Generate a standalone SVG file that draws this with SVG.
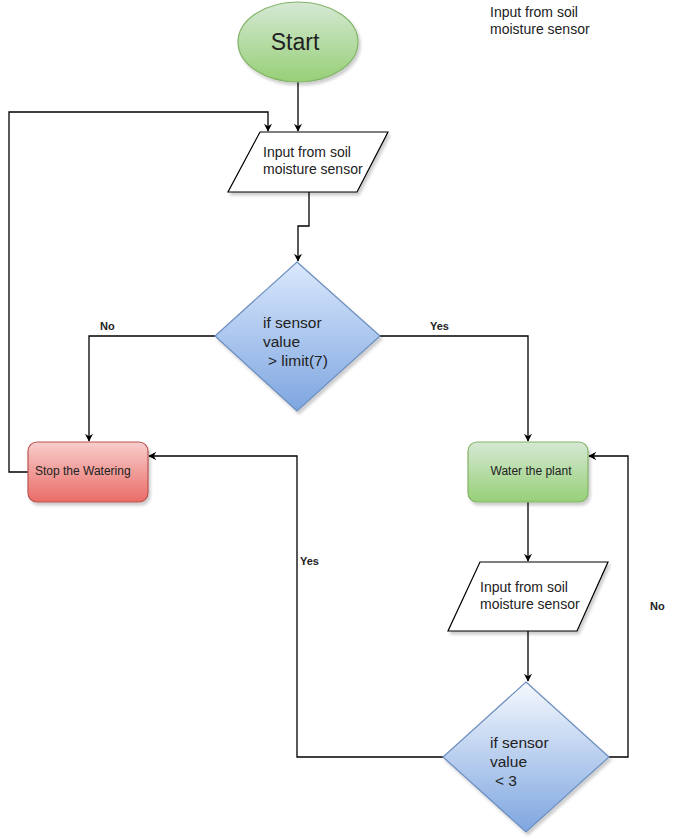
<svg xmlns="http://www.w3.org/2000/svg" width="689" height="839" viewBox="0 0 689 839">
<style>
text{font-family:"Liberation Sans",Arial,sans-serif;fill:#222}
.t14{font-size:14px}
.t15{font-size:15.5px}
.t12{font-size:12px}
.lbl{font-size:11px;font-weight:bold;fill:#222}
.edge{fill:none;stroke:#000;stroke-width:1.3}
.par{fill:#fff;stroke:#000;stroke-width:1.2}
</style>
<defs>
<linearGradient id="gGreen" x1="0" y1="0" x2="0" y2="1"><stop offset="0" stop-color="#d5e8d4"/><stop offset="1" stop-color="#97d077"/></linearGradient>
<linearGradient id="gRed" x1="0" y1="0" x2="0" y2="1"><stop offset="0" stop-color="#f8cecc"/><stop offset="1" stop-color="#ea6b66"/></linearGradient>
<linearGradient id="gBlue" x1="0" y1="0" x2="0" y2="1"><stop offset="0" stop-color="#dae8fc"/><stop offset="1" stop-color="#7ea6e0"/></linearGradient>
<linearGradient id="gBlue2" x1="0" y1="0" x2="0" y2="1"><stop offset="0" stop-color="#f5f8fd"/><stop offset="1" stop-color="#7ea6e0"/></linearGradient>
<filter id="sh" x="-10%" y="-10%" width="130%" height="130%"><feDropShadow dx="2" dy="3" stdDeviation="1.5" flood-color="#000" flood-opacity="0.2"/></filter>
<marker id="arr" viewBox="0 0 10 10" refX="9" refY="5" markerWidth="8" markerHeight="8" markerUnits="userSpaceOnUse" orient="auto"><path d="M0,0 L10,5 L0,10 L3,5 Z" fill="#000"/></marker>
</defs>
<g id="connectors">
<path class="edge" d="M298,82 V131" marker-end="url(#arr)"/>
<path class="edge" d="M28,472 H9 V112 H268 V131" marker-end="url(#arr)"/>
<path class="edge" d="M309,192 V226 H298 V261" marker-end="url(#arr)"/>
<path class="edge" d="M215,336 H89 V441" marker-end="url(#arr)"/>
<path class="edge" d="M380,336 H528 V441" marker-end="url(#arr)"/>
<path class="edge" d="M528,502 V561" marker-end="url(#arr)"/>
<path class="edge" d="M528,631 V681" marker-end="url(#arr)"/>
<path class="edge" d="M443,757 H297 V456 H149" marker-end="url(#arr)"/>
<path class="edge" d="M609,757 H628 V456 H589" marker-end="url(#arr)"/>
<text class="lbl" x="100" y="330">No</text>
<text class="lbl" x="430" y="330">Yes</text>
<text class="lbl" x="300" y="565">Yes</text>
<text class="lbl" x="650" y="610">No</text>
</g>
<g id="start">
<ellipse cx="298" cy="42" rx="60" ry="40" fill="url(#gGreen)" stroke="#82b366" stroke-width="1.2" filter="url(#sh)"/>
<text x="295" y="50" font-size="23" text-anchor="middle">Start</text>
</g>
<g id="input1">
<path class="par" d="M260,132 H388 L357,192 H228 Z" filter="url(#sh)"/>
<text class="t14" x="263" y="157">Input from soil</text>
<text class="t14" x="263" y="174">moisture sensor</text>
</g>
<g id="decision1">
<path d="M297,262 L380,336 L297,411 L215,336 Z" fill="url(#gBlue)" stroke="#6c8ebf" stroke-width="1.2" filter="url(#sh)"/>
<text class="t15" x="263" y="328">if sensor</text>
<text class="t15" x="263" y="347">value</text>
<text class="t15" x="268" y="366">&gt; limit(7)</text>
</g>
<g id="stop">
<rect x="28" y="442" width="120" height="60" rx="9" fill="url(#gRed)" stroke="#b85450" stroke-width="1.2" filter="url(#sh)"/>
<text class="t12" x="35" y="475">Stop the Watering</text>
</g>
<g id="water">
<rect x="468" y="442" width="120" height="60" rx="9" fill="url(#gGreen)" stroke="#82b366" stroke-width="1.2" filter="url(#sh)"/>
<text class="t12" x="531" y="475" text-anchor="middle">Water the plant</text>
</g>
<g id="input2">
<path class="par" d="M480,562 H608 L577,631 H448 Z" filter="url(#sh)"/>
<text class="t14" x="480" y="592">Input from soil</text>
<text class="t14" x="480" y="609">moisture sensor</text>
</g>
<g id="decision2">
<path d="M526,682 L609,757 L526,832 L443,757 Z" fill="url(#gBlue2)" stroke="#6c8ebf" stroke-width="1.2" filter="url(#sh)"/>
<text class="t15" x="490" y="748">if sensor</text>
<text class="t15" x="490" y="767">value</text>
<text class="t15" x="495" y="786">&lt; 3</text>
</g>
<g id="note">
<text class="t14" x="490" y="17">Input from soil</text>
<text class="t14" x="490" y="34">moisture sensor</text>
</g>
</svg>
